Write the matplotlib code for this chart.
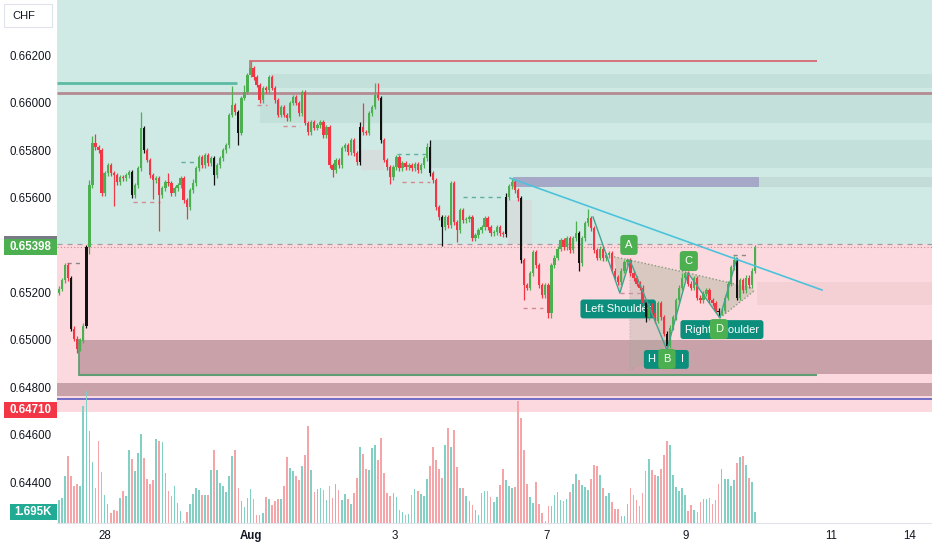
import numpy as np
import matplotlib
matplotlib.use('Agg')
import matplotlib.pyplot as plt
from matplotlib.patches import Rectangle, Polygon
from matplotlib import transforms

plt.rcParams['font.family'] = ['Liberation Sans', 'DejaVu Sans']

# ---------------- data (prices in points = 1e-5) ----------------
first_open_pts = 65205
close_pts = [
    65223, 65257, 65321, 65266, 65054, 65012, 64970, 65003, 65067, 65397,
    65659, 65836, 65819, 65807, 65625, 65710, 65743, 65710, 65701, 65671,
    65693, 65688, 65701, 65714, 65617, 65659, 65731, 65900, 65807, 65765,
    65701, 65680, 65688, 65617, 65646, 65671, 65667, 65625, 65646, 65659,
    65688, 65595, 65566, 65638, 65667, 65731, 65777, 65743, 65786, 65752,
    65773, 65701, 65743, 65773, 65807, 65828, 65955, 65997, 65967, 65879,
    66027, 66052, 66124, 66153, 66115, 66082, 66018, 66069, 66060, 66115,
    66069, 66018, 65955, 65989, 65955, 65942, 66006, 66031, 66006, 65963,
    66052, 65921, 65883, 65925, 65900, 65912, 65925, 65870, 65904, 65743,
    65722, 65765, 65743, 65815, 65828, 65798, 65849, 65794, 65756, 65904,
    65883, 65879, 65963, 65989, 66039, 66027, 65849, 65765, 65735, 65693,
    65735, 65777, 65731, 65752, 65735, 65743, 65731, 65748, 65722, 65743,
    65773, 65819, 65710, 65680, 65566, 65524, 65481, 65524, 65490, 65667,
    65502, 65469, 65553, 65511, 65515, 65524, 65435, 65447, 65469, 65481,
    65519, 65481, 65456, 65460, 65481, 65456, 65452, 65608, 65655, 65671,
    65638, 65604, 65342, 65236, 65227, 65287, 65376, 65321, 65236, 65194,
    65236, 65118, 65321, 65354, 65392, 65426, 65397, 65435, 65384, 65435,
    65456, 65329, 65435, 65498, 65519, 65477, 65384, 65354, 65392, 65350,
    65363, 65371, 65299, 65270, 65249, 65299, 65333, 65342, 65287, 65266,
    65244, 65227, 65160, 65101, 65151, 65118, 65088, 65160, 65101, 65033,
    64982, 65058, 65101, 65173, 65227, 65269, 65287, 65244, 65227, 65266,
    65185, 65173, 65202, 65215, 65173, 65160, 65130, 65122, 65130, 65185,
    65244, 65312, 65342, 65185, 65257, 65215, 65269, 65236, 65299, 65398,
]
wick_up_pips = [
    1, 1, 1, 1, 1, 1, 1, 1, 1, 1,
    2, 3, 4, 1, 1, 1, 1, 1, 1, 1,
    1, 1, 1, 1, 1, 1, 1, 7, 1, 1,
    1, 1, 1, 1, 1, 1, 4, 1, 1, 1,
    1, 1, 1, 1, 2, 1, 1, 1, 1, 1,
    1, 1, 1, 1, 1, 1, 1, 8, 1, 1,
    1, 3, 1, 3, 1, 1, 1, 1, 1, 1,
    1, 1, 1, 1, 1, 1, 1, 1, 1, 1,
    1, 1, 1, 1, 1, 1, 1, 1, 1, 1,
    1, 1, 1, 1, 1, 1, 1, 1, 1, 2,
    10, 1, 1, 1, 5, 5, 1, 1, 1, 1,
    1, 1, 1, 1, 1, 1, 1, 1, 1, 1,
    1, 2, 3, 1, 1, 1, 1, 1, 1, 1,
    1, 1, 1, 1, 1, 1, 1, 1, 1, 1,
    1, 1, 1, 1, 1, 1, 1, 2, 1, 2,
    1, 1, 1, 1, 1, 1, 1, 1, 1, 1,
    1, 1, 1, 1, 1, 1, 1, 1, 1, 1,
    5, 1, 1, 1, 4, 1, 1, 1, 1, 1,
    1, 1, 1, 1, 1, 1, 1, 1, 1, 1,
    1, 1, 1, 1, 1, 1, 1, 1, 1, 1,
    1, 1, 1, 1, 1, 2, 1, 1, 1, 1,
    1, 1, 1, 1, 1, 1, 1, 1, 1, 1,
    1, 1, 2, 1, 1, 1, 1, 1, 1, 1,
]
wick_dn_pips = [
    1, 1, 1, 1, 1, 1, 2, 1, 1, 1,
    3, 1, 1, 1, 1, 1, 1, 1, 13, 1,
    1, 1, 1, 1, 1, 1, 1, 1, 1, 1,
    1, 8, 1, 15, 1, 1, 1, 1, 1, 1,
    1, 1, 5, 1, 1, 1, 1, 1, 1, 1,
    1, 4, 1, 1, 1, 1, 1, 1, 1, 5,
    1, 1, 1, 1, 1, 1, 1, 1, 1, 1,
    1, 1, 1, 1, 1, 1, 1, 1, 1, 1,
    1, 1, 1, 1, 1, 1, 1, 1, 1, 1,
    3, 1, 1, 1, 1, 1, 1, 1, 1, 1,
    1, 1, 1, 1, 1, 1, 1, 1, 1, 3,
    1, 1, 1, 1, 1, 1, 1, 1, 1, 1,
    1, 1, 1, 1, 1, 1, 8, 1, 1, 1,
    1, 5, 1, 1, 1, 1, 1, 1, 1, 1,
    1, 1, 1, 1, 1, 1, 1, 1, 1, 1,
    1, 1, 1, 6, 1, 1, 1, 1, 1, 1,
    1, 2, 2, 1, 1, 1, 1, 1, 1, 1,
    1, 3, 1, 1, 1, 1, 1, 1, 1, 1,
    1, 1, 1, 1, 1, 1, 1, 1, 1, 1,
    1, 1, 1, 2, 1, 1, 1, 1, 1, 1,
    3, 1, 1, 1, 1, 1, 1, 1, 1, 1,
    1, 1, 1, 1, 1, 1, 1, 2, 1, 1,
    1, 1, 1, 1, 1, 1, 1, 1, 1, 1,
]
volume_k = [
    3.5, 3.9, 7.2, 10.3, 7.2, 5.7, 6.0, 5.7, 18.0, 20.3,
    14.2, 9.4, 5.4, 12.6, 7.9, 4.3, 2.9, 1.5, 2.0, 1.8,
    3.9, 4.9, 4.2, 11.2, 9.9, 8.0, 10.8, 13.7, 10.0, 6.8,
    6.0, 6.6, 12.9, 12.6, 12.5, 7.7, 4.9, 4.2, 5.7, 3.1,
    1.8, 0.3, 1.7, 2.9, 4.5, 5.4, 5.1, 4.3, 4.3, 4.3,
    8.2, 11.2, 8.2, 6.2, 5.7, 4.8, 7.2, 10.3, 11.2, 5.4,
    3.4, 2.5, 3.9, 5.2, 3.7, 1.2, 1.2, 1.5, 4.0, 3.7,
    2.8, 3.4, 3.7, 3.7, 5.7, 10.2, 8.5, 8.0, 7.2, 6.6,
    8.8, 10.5, 14.9, 8.2, 4.8, 5.2, 5.4, 5.1, 3.5, 5.7,
    3.9, 6.0, 5.1, 3.5, 4.5, 3.7, 2.9, 4.6, 6.9, 11.7,
    10.6, 8.3, 8.2, 11.6, 12.0, 9.7, 13.1, 7.7, 4.6, 4.2,
    4.6, 4.0, 2.0, 1.7, 1.2, 1.4, 4.3, 5.2, 4.9, 4.5,
    4.2, 6.8, 8.8, 11.7, 9.7, 8.3, 6.9, 12.0, 14.6, 11.7,
    14.3, 8.6, 5.4, 5.4, 4.2, 3.4, 2.8, 2.0, 1.2, 4.6,
    4.9, 4.9, 4.0, 3.2, 4.0, 5.9, 8.3, 6.6, 5.7, 5.4,
    5.5, 18.8, 16.2, 11.2, 6.0, 4.0, 3.1, 6.3, 2.9, 1.5,
    0.3, 2.6, 2.6, 4.3, 4.8, 3.5, 3.4, 3.7, 4.8, 6.0,
    7.5, 6.6, 5.9, 5.5, 5.1, 6.8, 8.9, 8.8, 7.4, 5.4,
    4.2, 4.6, 3.2, 2.2, 2.2, 1.1, 1.1, 2.9, 5.4, 4.3,
    3.5, 2.6, 4.6, 8.0, 9.9, 8.2, 7.4, 7.2, 8.3, 10.5,
    12.6, 12.0, 7.4, 5.5, 4.9, 5.4, 4.3, 1.8, 2.8, 2.0,
    1.7, 3.2, 3.7, 3.7, 3.9, 2.9, 3.5, 6.0, 8.3, 6.8,
    6.8, 5.7, 6.6, 9.2, 10.2, 10.3, 8.9, 6.9, 6.3, 1.695,
]
highlight_idx = [4, 9, 24, 28, 51, 59, 99, 106, 122, 126, 147, 152, 171, 193, 200, 217, 223]

date_ticks = [15.1, 63.1, 110.5, 160.5, 206.3, 253.9, 279.9]
date_labels = ['28', 'Aug', '3', '7', '9', '11', '14']
price_ticks = [0.662, 0.660, 0.658, 0.656, 0.652, 0.650, 0.648, 0.646, 0.644]

last_price = 0.65398
zone_split = 0.65413
zone_bottom = 0.64702
red_label_price = 0.64710
last_volume_label = '1.695K'

# horizontal bands: (x_start, x_end or None, low, high, colour)
bands = [
    (69.7, None, 0.66069, 0.66128, '#c3e1da'),
    (66.0, None, 0.65922, 0.66040, '#c3e1da'),
    (122.0, None, 0.65732, 0.65850, '#c3e1da'),
    (149.3, 230.3, 0.65652, 0.65694, '#a6a8c8'),
    (230.3, None, 0.65652, 0.65694, '#c3dcd8'),
    (229.6, None, 0.65154, 0.65251, '#f4d0d5'),
    (6.6, None, 0.64863, 0.65006, '#c8a2a8'),
    (None, None, 0.64770, 0.64825, '#c8a2a8'),
    (147.7, 155.6, 0.65413, 0.65595, '#d5dedc'),
    (99.4, 106.9, 0.65722, 0.65807, '#d5dedc'),
]
# horizontal lines: (x_start, x_end, price, colour, width)
hlines = [
    (None, 58.5, 0.66092, '#5dbba3', 2.0),
    (None, None, 0.66048, '#b58a90', 2.0),
    (62.8, 249.3, 0.66185, '#d46a72', 1.3),
    (None, None, 0.64757, '#5a5cc4', 1.2),
    (6.6, 249.3, 0.64860, '#5f9e74', 1.5),
]
dashed_segments = [
    (2.6, 7.9, 0.65331, '#888888'),
    (24.3, 33.2, 0.65588, '#d38a92'),
    (40.1, 45.7, 0.65757, '#5fae9f'),
    (65.0, 68.4, 0.65997, '#d38a92'),
    (73.7, 79.3, 0.65909, '#d38a92'),
    (111.2, 121.0, 0.65791, '#5fae9f'),
    (113.0, 122.0, 0.65673, '#d38a92'),
    (133.0, 146.0, 0.65609, '#5fae9f'),
    (152.6, 159.2, 0.65141, '#d38a92'),
    (184.5, 192.0, 0.65204, '#d38a92'),
    (221.7, 227.0, 0.65363, '#888888'),
]
trend_x = [148.4, 251.0]
trend_y = [0.65689, 0.65217]

zig_x = [175.7, 184.5, 187.8, 200.0, 206.9, 217.4, 223.0]
zig_y = [0.65525, 0.65204, 0.65343, 0.64964, 0.65289, 0.65099, 0.65352]
neck_x = [182.6, 187.8, 206.9, 228.0]
neck_y = [0.65357, 0.65343, 0.65289, 0.65225]
low_neck_x = [217.4, 228.9]
low_neck_y = [0.65099, 0.65215]
proj_x = [187.8, 187.8, 200.0]
proj_y = [0.65343, 0.64879, 0.64964]

# ---------------- derived OHLC ----------------
close = np.array(close_pts) / 1e5
open_ = np.concatenate([[first_open_pts], close_pts[:-1]]) / 1e5
high = np.maximum(open_, close) + np.array(wick_up_pips) / 1e4
low = np.minimum(open_, close) - np.array(wick_dn_pips) / 1e4
idx = np.arange(len(close))
up = close >= open_

W, H = 932, 550
fig = plt.figure(figsize=(W / 100, H / 100), dpi=100)
fig.patch.set_facecolor('white')
ax = fig.add_axes([57 / W, 27 / H, 875 / W, 523 / H])
XMIN, XMAX = -0.66, 287.2
YMIN, YMAX = 0.642338, 0.664405
ax.set_xlim(XMIN, XMAX)
ax.set_ylim(YMIN, YMAX)
ax.set_facecolor('white')
px_per_price = 523 / (YMAX - YMIN)

# zones
ax.axhspan(zone_split, YMAX, color='#cfeae4', zorder=0, lw=0)
ax.axhspan(zone_bottom, zone_split, color='#fcd9de', zorder=0, lw=0)
for x0, x1, lo_, hi_, col in bands:
    x0 = XMIN if x0 is None else x0
    x1 = XMAX if x1 is None else x1
    ax.add_patch(Rectangle((x0, lo_), x1 - x0, hi_ - lo_, color=col, lw=0, zorder=1))
for x0, x1, p, col, lw in hlines:
    x0 = XMIN if x0 is None else x0
    x1 = XMAX if x1 is None else x1
    ax.plot([x0, x1], [p, p], color=col, lw=lw, zorder=2, solid_capstyle='butt')
ax.plot([62.8, 62.8], [0.66185, 0.66150], color='#d46a72', lw=1.2, zorder=2)
ax.plot([6.6, 6.6], [0.64860, 0.65006], color='#5f9e74', lw=1.3, zorder=2)
for x0, x1, p, col in dashed_segments:
    ax.plot([x0, x1], [p, p], color=col, lw=1.0, ls=(0, (3, 3)), zorder=2)

ax.plot([XMIN, XMAX], [zone_split, zone_split], color='#9aa0a6', lw=0.9, ls=(0, (4, 4)), zorder=2)
ax.plot([XMIN, XMAX], [last_price, last_price], color='#c98b8b', lw=0.8, ls=(0, (1, 2)), zorder=2)

# pattern fills
fill_col = '#9aa98a'
ax.add_patch(Polygon(list(zip(proj_x, proj_y)), closed=True, fc='#b0aaa0', alpha=0.35, ec='#9a9a9a',
                     ls=':', lw=0.9, zorder=3))
ax.add_patch(Polygon([(neck_x[0], neck_y[0]), (zig_x[1], zig_y[1]), (zig_x[2], zig_y[2])],
                     closed=True, fc=fill_col, alpha=0.35, lw=0, zorder=3))
ax.add_patch(Polygon([(zig_x[2], zig_y[2]), (zig_x[3], zig_y[3]), (zig_x[4], zig_y[4])],
                     closed=True, fc=fill_col, alpha=0.35, lw=0, zorder=3))
ax.add_patch(Polygon([(zig_x[4], zig_y[4]), (zig_x[5], zig_y[5]), (low_neck_x[1], low_neck_y[1]),
                      (neck_x[3], neck_y[3])], closed=True, fc=fill_col, alpha=0.35, lw=0, zorder=3))
ax.plot(neck_x, neck_y, color='#8a9a80', lw=1.0, ls=(0, (1, 1.5)), zorder=3)
ax.plot(low_neck_x, low_neck_y, color='#8a9a80', lw=1.0, ls=(0, (1, 1.5)), zorder=3)
ax.plot(zig_x, zig_y, color='#3fa58f', lw=1.0, zorder=6)

# candles
green, red = '#4caf50', '#f23645'
cols = np.where(up, green, red).astype(object)
for k in highlight_idx:
    cols[k] = '#111111'
ax.vlines(idx, low, high, colors=list(cols), lw=0.9, zorder=5)
body_lo = np.minimum(open_, close)
body_h = np.maximum(np.abs(close - open_), 0.00004)
ax.bar(idx, body_h, bottom=body_lo, width=0.75, color=list(cols), lw=0, zorder=5)

# trend line
ax.plot(trend_x, trend_y, color='#4cc3db', lw=1.2, zorder=6)

# labels on chart
teal_box = '#0b8f7c'
gbox = '#4caf50'
ax.text(173.0, 0.65137, 'Left Shoulder', color='white', fontsize=8, va='center', ha='left', zorder=4,
        bbox=dict(boxstyle='round,pad=0.4,rounding_size=0.25', fc=teal_box, ec='none'))
ax.text(205.9, 0.65050, 'Right Shoulder', color='white', fontsize=8, va='center', ha='left', zorder=7,
        bbox=dict(boxstyle='round,pad=0.4,rounding_size=0.25', fc=teal_box, ec='none'))
ax.text(199.8, 0.64924, 'H        I', color='white', fontsize=8, va='center', ha='center', zorder=7,
        bbox=dict(boxstyle='round,pad=0.4,rounding_size=0.25', fc=teal_box, ec='none'))
for lx, ly, t in [(187.5, 0.65407, 'A'), (207.2, 0.65339, 'C'), (217.1, 0.65052, 'D'), (200.0, 0.64926, 'B')]:
    ax.text(lx, ly, t, color='white', fontsize=8, va='center', ha='center', zorder=8,
            bbox=dict(boxstyle='round,pad=0.45,rounding_size=0.3', fc=gbox, ec='none'))

# volume
ax2 = ax.twinx()
ax2.set_ylim(0, 523 * 0.154)
ax2.set_xlim(XMIN, XMAX)
vcols = np.where(up, '#82cfc4', '#f5a4a8')
ax2.bar(idx, volume_k, width=0.55, color=list(vcols), lw=0, zorder=3)
ax2.axis('off')

# axes styling
for s in ['top', 'right', 'left']:
    ax.spines[s].set_visible(False)
ax.spines['bottom'].set_color('#e0e3eb')
ax.set_yticks([])
ax.set_xticks(date_ticks)
ax.set_xticklabels(date_labels)
ax.tick_params(axis='x', length=0, pad=5, labelsize=8.3, labelcolor='#131722')
ax.get_xticklabels()[1].set_fontweight('bold')

# left price scale
trans = transforms.blended_transform_factory(fig.transFigure, ax.transData)
for p in price_ticks:
    fig.text(9 / W, p, f'{p:.5f}', transform=trans, va='center', ha='left', fontsize=8.3, color='#131722')
box_h = 16 / px_per_price
fig.add_artist(Rectangle((4 / W, zone_split - box_h / 2), 53 / W, box_h, transform=trans,
                         fc='#787b86', ec='none'))
fig.add_artist(Rectangle((4 / W, last_price - box_h / 2), 53 / W, box_h, transform=trans,
                         fc='#4caf50', ec='none'))
fig.text(9 / W, last_price, f'{last_price:.5f}', transform=trans, va='center', ha='left',
         fontsize=8.3, color='white', fontweight='bold')
fig.add_artist(Rectangle((4 / W, red_label_price - box_h / 2), 53 / W, box_h, transform=trans,
                         fc='#f23645', ec='none'))
fig.text(9 / W, red_label_price, f'{red_label_price:.5f}', transform=trans, va='center', ha='left',
         fontsize=8.3, color='white', fontweight='bold')
trans2 = transforms.blended_transform_factory(fig.transFigure, ax2.transData)
vbox_h = 16 * 0.154
fig.add_artist(Rectangle((10 / W, volume_k[-1] - vbox_h / 2), 47 / W, vbox_h, transform=trans2,
                         fc='#22ab94', ec='none'))
fig.text(14 / W, volume_k[-1], last_volume_label, transform=trans2, va='center', ha='left',
         fontsize=8.3, color='white', fontweight='bold')

# CHF box
fig.add_artist(Rectangle((4 / W, 1 - 27 / H), 48 / W, 23 / H, transform=fig.transFigure,
                         fc='white', ec='#e0e3eb', lw=0.8))
fig.text(12 / W, 1 - 16 / H, 'CHF', va='center', ha='left', fontsize=8, color='#131722')

fig.savefig('out.png', dpi=100)
